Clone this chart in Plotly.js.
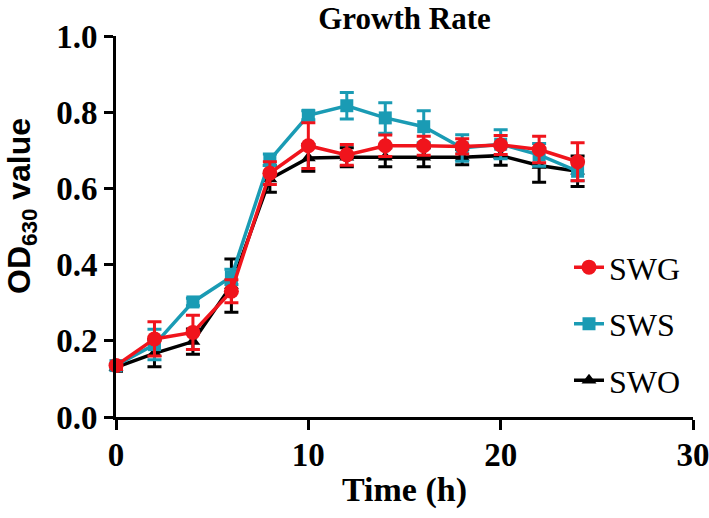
<!DOCTYPE html>
<html>
<head>
<meta charset="utf-8">
<script src="https://cdn.plot.ly/plotly-3.0.1.min.js"></script>
<style>html,body{margin:0;padding:0;background:#fff;}#chart{width:709px;height:518px;}</style>
</head>
<body>
<div id="chart"></div>
<script>
const time = [0, 2, 4, 6, 8, 10, 12, 14, 16, 18, 20, 22, 24];
const SWG = [0.135, 0.205, 0.222, 0.330, 0.640, 0.712, 0.688, 0.712, 0.712, 0.710, 0.714, 0.702, 0.670];
const SWG_err = [0.01, 0.045, 0.045, 0.03, 0.03, 0.06, 0.027, 0.028, 0.025, 0.02, 0.025, 0.035, 0.05];
const SWS = [0.135, 0.190, 0.302, 0.368, 0.675, 0.792, 0.817, 0.785, 0.762, 0.706, 0.716, 0.688, 0.645];
const SWS_err = [0.01, 0.04, 0.01, 0.02, 0.015, 0.012, 0.035, 0.04, 0.042, 0.035, 0.038, 0.03, 0.025];
const SWO = [0.130, 0.167, 0.198, 0.345, 0.625, 0.680, 0.682, 0.682, 0.682, 0.682, 0.686, 0.660, 0.645];
const SWO_err = [0.01, 0.035, 0.033, 0.07, 0.035, 0.035, 0.025, 0.025, 0.025, 0.02, 0.025, 0.044, 0.04];
const xTicks = [0, 10, 20, 30];
const yTicks = [0, 0.2, 0.4, 0.6, 0.8, 1.0];
const yTickText = ['0.0', '0.2', '0.4', '0.6', '0.8', '1.0'];

const RED = '#f0141c', TEAL = '#1a9bb4', BLACK = '#000000';

function series(name, y, err, color, symbol, size, rank) {
  return {
    x: time, y: y, name: name, type: 'scatter', mode: 'lines+markers',
    legendgroup: name, legendrank: rank,
    line: {color: color, width: 3.5},
    marker: {color: color, symbol: symbol, size: size},
    error_y: {type: 'data', array: err, visible: true, color: color, thickness: 3, width: 7},
    cliponaxis: false
  };
}

const data = [
  series('SWO', SWO, SWO_err, BLACK, 'triangle-up', 13, 3),
  series('SWS', SWS, SWS_err, TEAL, 'square', 13, 2),
  series('SWG', SWG, SWG_err, RED, 'circle', 15, 1)
];

const serif = 'Liberation Serif, Times New Roman, serif';
const ML = 116, MR = 16;
const plotW = 709 - ML - MR;
const layout = {
  width: 709, height: 518,
  margin: {l: ML, r: MR, t: 36, b: 101},
  paper_bgcolor: '#fff', plot_bgcolor: '#fff',
  title: {text: '<b>Growth Rate</b>', font: {family: serif, size: 31, color: '#000'},
          x: 0.5, xref: 'paper', y: 1 - 18 / 518, yref: 'container', yanchor: 'middle'},
  xaxis: {
    range: [0, 30], tickvals: xTicks, ticktext: xTicks.map(String),
    showline: true, linewidth: 3, linecolor: '#000', ticks: 'outside', ticklen: 10, tickwidth: 3, tickcolor: '#000',
    showgrid: false, zeroline: false, ticklabeloverflow: 'allow', ticklabelstandoff: -4,
    tickfont: {family: serif, size: 33, color: '#000', weight: 'bold'},
    title: {text: '<b>Time (h)</b>', font: {family: serif, size: 34, color: '#000'}, standoff: 6}
  },
  yaxis: {
    range: [0, 1.0], tickvals: yTicks, ticktext: yTickText,
    showline: true, linewidth: 3, linecolor: '#000', ticks: 'outside', ticklen: 9, tickwidth: 3, tickcolor: '#000',
    showgrid: false, zeroline: false, ticklabeloverflow: 'allow',
    tickfont: {family: serif, size: 33, color: '#000', weight: 'bold'}
  },
  annotations: [{
    text: '<b>OD<sub>630</sub> value</b>', textangle: -90,
    xref: 'paper', yref: 'paper',
    x: (21 - ML) / plotW, y: (417 - 206) / 381,
    xanchor: 'center', yanchor: 'middle', showarrow: false,
    font: {family: 'Liberation Sans, Arial, sans-serif', size: 32, color: '#000'}
  }],
  showlegend: true,
  legend: {
    x: (569 - ML) / plotW, xanchor: 'left', y: 0.465, yanchor: 'top',
    font: {family: serif, size: 32, color: '#000'},
    bgcolor: 'rgba(0,0,0,0)', tracegroupgap: 12, traceorder: 'grouped'
  }
};

Plotly.newPlot('chart', data, layout, {displayModeBar: false, staticPlot: true});
</script>
</body>
</html>
